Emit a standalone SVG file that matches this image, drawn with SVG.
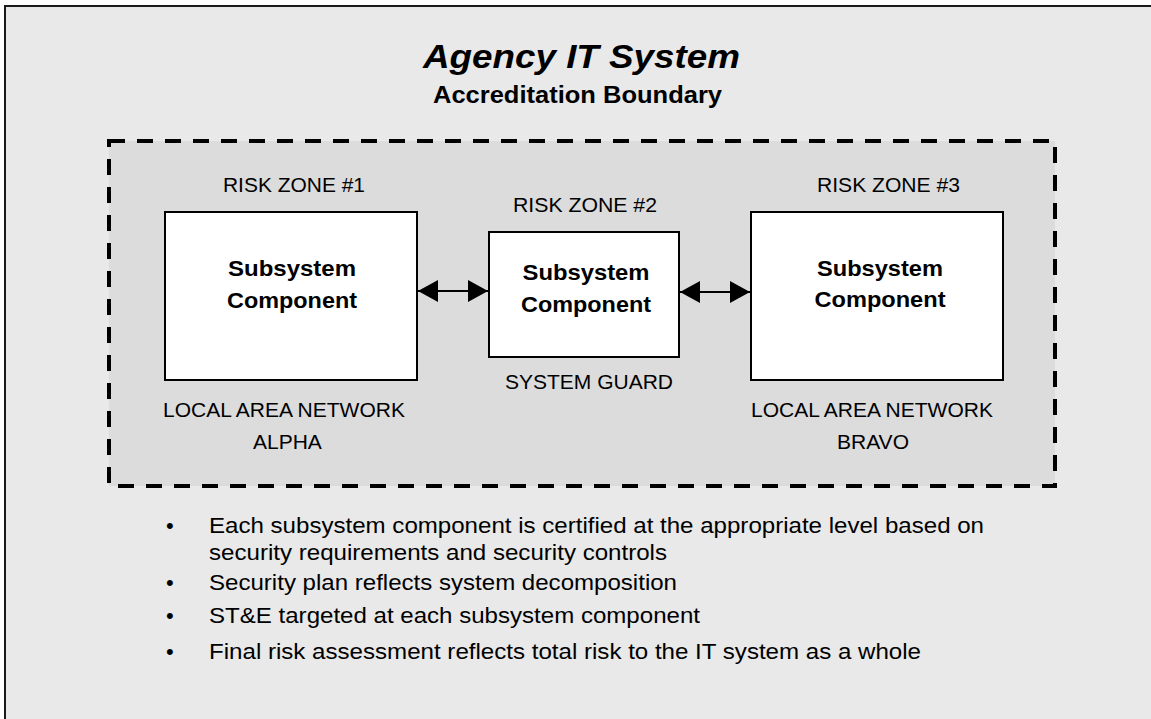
<svg xmlns="http://www.w3.org/2000/svg" width="1151" height="719" viewBox="0 0 1151 719">
  <style>
    .frame { fill: #e9e9e9; stroke: #1a1a1a; stroke-width: 2; }
    .boundary { fill: #dcdcdc; stroke: #000; stroke-width: 4; stroke-dasharray: 16 12; }
    .box { fill: #fff; stroke: #000; stroke-width: 2; }
    .title { font-family: "Liberation Sans", Arial, sans-serif; font-weight: bold; font-style: italic; font-size: 33px; fill: #000; }
    .subtitle { font-family: "Liberation Sans", Arial, sans-serif; font-weight: bold; font-size: 23px; fill: #000; }
    .label { font-family: "Liberation Sans", Arial, sans-serif; font-size: 21px; fill: #000; }
    .name { font-family: "Liberation Sans", Arial, sans-serif; font-weight: bold; font-size: 22px; fill: #000; text-anchor: middle; }
    .bullet { font-family: "Liberation Sans", Arial, sans-serif; font-size: 22px; fill: #000; }
    .conn { stroke: #000; stroke-width: 2; fill: none; }
  </style>
  <defs>
    <marker id="head" viewBox="0 0 20 22" refX="20" refY="11" markerWidth="20" markerHeight="22" markerUnits="userSpaceOnUse" orient="auto-start-reverse">
      <path d="M0,0 L20,11 L0,22 Z" fill="#000"/>
    </marker>
  </defs>

  <!-- page frame -->
  <rect class="frame" x="5" y="6" width="1160" height="730"/>

  <!-- heading -->
  <g id="heading">
    <text class="title" x="423" y="68" textLength="317" lengthAdjust="spacingAndGlyphs">Agency IT System</text>
    <text class="subtitle" x="433" y="103" textLength="289" lengthAdjust="spacingAndGlyphs">Accreditation Boundary</text>
  </g>

  <!-- accreditation boundary -->
  <g id="boundary">
    <rect class="boundary" x="109" y="141" width="946" height="345"/>
  </g>

  <!-- risk zone 1 -->
  <g id="zone1">
    <text class="label" x="223" y="192" textLength="142" lengthAdjust="spacingAndGlyphs">RISK ZONE #1</text>
    <rect class="box" x="165" y="212" width="252" height="168"/>
    <text class="name" x="292" y="276" textLength="128" lengthAdjust="spacingAndGlyphs">Subsystem</text>
    <text class="name" x="292" y="308" textLength="130" lengthAdjust="spacingAndGlyphs">Component</text>
    <text class="label" x="163" y="417">LOCAL AREA NETWORK</text>
    <text class="label" x="253" y="449">ALPHA</text>
  </g>

  <!-- risk zone 2 -->
  <g id="zone2">
    <text class="label" x="513" y="212" textLength="144" lengthAdjust="spacingAndGlyphs">RISK ZONE #2</text>
    <rect class="box" x="489" y="232" width="190" height="125"/>
    <text class="name" x="586" y="280" textLength="127" lengthAdjust="spacingAndGlyphs">Subsystem</text>
    <text class="name" x="586" y="312" textLength="130" lengthAdjust="spacingAndGlyphs">Component</text>
    <text class="label" x="505" y="389">SYSTEM GUARD</text>
  </g>

  <!-- risk zone 3 -->
  <g id="zone3">
    <text class="label" x="817" y="192" textLength="143" lengthAdjust="spacingAndGlyphs">RISK ZONE #3</text>
    <rect class="box" x="751" y="212" width="252" height="168"/>
    <text class="name" x="880" y="276" textLength="126" lengthAdjust="spacingAndGlyphs">Subsystem</text>
    <text class="name" x="880" y="307" textLength="131" lengthAdjust="spacingAndGlyphs">Component</text>
    <text class="label" x="751" y="417">LOCAL AREA NETWORK</text>
    <text class="label" x="837" y="449">BRAVO</text>
  </g>

  <!-- two-way links between the subsystems -->
  <g id="connectors">
    <line class="conn" x1="418" y1="291" x2="488" y2="291" marker-start="url(#head)" marker-end="url(#head)"/>
    <line class="conn" x1="680" y1="292" x2="750" y2="292" marker-start="url(#head)" marker-end="url(#head)"/>
  </g>

  <!-- notes -->
  <g id="notes">
    <text class="bullet" x="166" y="533">•</text>
    <text class="bullet" x="209" y="533" textLength="775" lengthAdjust="spacingAndGlyphs">Each subsystem component is certified at the appropriate level based on</text>
    <text class="bullet" x="209" y="560" textLength="458" lengthAdjust="spacingAndGlyphs">security requirements and security controls</text>
    <text class="bullet" x="166" y="590">•</text>
    <text class="bullet" x="209" y="590" textLength="468" lengthAdjust="spacingAndGlyphs">Security plan reflects system decomposition</text>
    <text class="bullet" x="166" y="623">•</text>
    <text class="bullet" x="209" y="623" textLength="491" lengthAdjust="spacingAndGlyphs">ST&amp;E targeted at each subsystem component</text>
    <text class="bullet" x="166" y="659">•</text>
    <text class="bullet" x="209" y="659" textLength="712" lengthAdjust="spacingAndGlyphs">Final risk assessment reflects total risk to the IT system as a whole</text>
  </g>
</svg>
